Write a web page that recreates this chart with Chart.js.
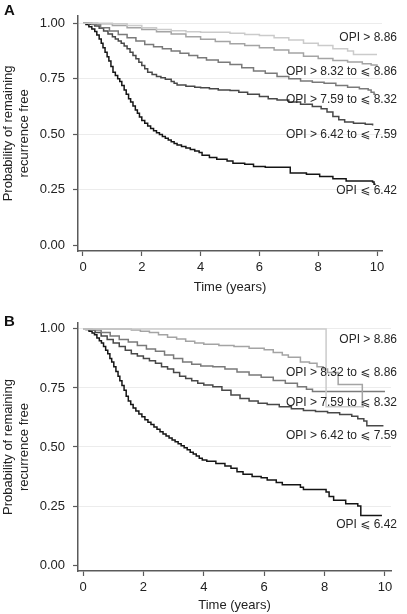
<!DOCTYPE html>
<html>
<head>
<meta charset="utf-8">
<script src="https://cdn.jsdelivr.net/npm/chart.js@4/dist/chart.umd.min.js"></script>
<style>
  html, body { margin: 0; padding: 0; background: #fff; }
  canvas { display: block; }
</style>
</head>
<body>
<canvas id="chartA" width="407" height="300"></canvas>
<canvas id="chartB" width="407" height="314"></canvas>
<script>
// tick labels and curve names
const xTicks = [0, 2, 4, 6, 8, 10];
const yTicks = [0, 0.25, 0.5, 0.75, 1];
const groupNames = ['OPI > 8.86', 'OPI > 8.32 to \u2A7D 8.86', 'OPI > 7.59 to \u2A7D 8.32', 'OPI > 6.42 to \u2A7D 7.59', 'OPI \u2A7D 6.42'];

// Panel A - time (years) and probability for each group
const timeA1 = [0, 1.0, 1.5, 2.0, 2.5, 3.0, 3.5, 4.0, 5.0, 5.5, 6.0, 6.5, 7.0, 7.5, 8.0, 8.5, 9.0, 9.2, 10.0];
const survA1 = [1, 0.998, 0.99, 0.98, 0.972, 0.967, 0.962, 0.96, 0.955, 0.95, 0.945, 0.935, 0.925, 0.91, 0.9, 0.885, 0.875, 0.86, 0.86];
const timeA2 = [0, 0.5, 1.0, 1.5, 2.0, 2.5, 3.0, 3.5, 4.0, 4.5, 5.0, 5.5, 6.0, 6.5, 7.0, 7.5, 8.0, 8.5, 9.0, 9.5, 9.8, 10.0];
const survA2 = [1, 0.998, 0.99, 0.98, 0.972, 0.962, 0.952, 0.94, 0.928, 0.918, 0.908, 0.9, 0.89, 0.88, 0.866, 0.852, 0.842, 0.833, 0.826, 0.818, 0.812, 0.808];
const timeA3 = [0, 0.3, 0.6, 0.9, 1.2, 1.5, 1.8, 2.1, 2.4, 2.7, 3.0, 3.3, 3.6, 3.9, 4.2, 4.6, 5.0, 5.4, 5.8, 6.2, 6.6, 7.0, 7.4, 7.8, 8.2, 8.6, 9.0, 9.4, 9.7, 9.8, 9.9, 9.95];
const survA3 = [1, 0.995, 0.98, 0.965, 0.95, 0.935, 0.92, 0.905, 0.895, 0.885, 0.875, 0.865, 0.855, 0.845, 0.835, 0.825, 0.815, 0.8, 0.785, 0.775, 0.76, 0.75, 0.74, 0.735, 0.73, 0.72, 0.712, 0.705, 0.7, 0.69, 0.68, 0.68];
const timeA4 = [0, 0.2, 0.4, 0.55, 0.7, 0.85, 1.0, 1.1, 1.2, 1.3, 1.4, 1.5, 1.6, 1.7, 1.8, 1.9, 2.0, 2.1, 2.2, 2.35, 2.5, 2.65, 2.8, 3.0, 3.1, 3.2, 3.5, 3.8, 4.0, 4.3, 4.6, 5.0, 5.3, 5.6, 6.0, 6.3, 6.6, 7.0, 7.4, 7.8, 8.1, 8.3, 8.5, 8.7, 8.9, 9.2, 9.6, 9.85];
const survA4 = [1, 0.996, 0.988, 0.978, 0.965, 0.952, 0.94, 0.93, 0.92, 0.91, 0.898, 0.885, 0.87, 0.855, 0.84, 0.825, 0.81, 0.795, 0.78, 0.77, 0.76, 0.755, 0.748, 0.738, 0.73, 0.722, 0.716, 0.712, 0.71, 0.705, 0.7, 0.697, 0.69, 0.68, 0.67, 0.66, 0.655, 0.645, 0.635, 0.625, 0.615, 0.6, 0.58, 0.565, 0.555, 0.55, 0.545, 0.54];
const timeA5 = [0, 0.1, 0.2, 0.3, 0.4, 0.47, 0.55, 0.62, 0.68, 0.75, 0.82, 0.88, 0.95, 1.02, 1.1, 1.18, 1.25, 1.32, 1.4, 1.47, 1.55, 1.62, 1.7, 1.78, 1.85, 1.92, 2.0, 2.1, 2.2, 2.3, 2.4, 2.5, 2.6, 2.7, 2.8, 2.9, 3.0, 3.1, 3.2, 3.35, 3.5, 3.65, 3.8, 3.95, 4.05, 4.3, 4.55, 4.9, 5.1, 5.5, 5.8, 6.2, 7.05, 7.6, 8.05, 8.5, 8.95, 9.85, 9.9, 9.95];
const survA5 = [1, 0.995, 0.985, 0.975, 0.963, 0.948, 0.93, 0.91, 0.89, 0.87, 0.85, 0.83, 0.805, 0.78, 0.765, 0.75, 0.738, 0.72, 0.7, 0.68, 0.66, 0.645, 0.628, 0.61, 0.595, 0.578, 0.562, 0.55, 0.537, 0.526, 0.516, 0.507, 0.499, 0.49, 0.482, 0.474, 0.466, 0.459, 0.452, 0.445, 0.438, 0.432, 0.425, 0.418, 0.405, 0.395, 0.388, 0.38, 0.37, 0.365, 0.355, 0.352, 0.325, 0.32, 0.31, 0.3, 0.29, 0.285, 0.275, 0.275];

// Panel B
const timeB1 = [0, 8.05, 9.25];
const survB1 = [1, 0.67, 0.67];
const timeB2 = [0, 1.5, 1.6, 1.9, 2.2, 2.5, 2.8, 3.1, 3.4, 3.7, 4.0, 4.5, 5.0, 5.5, 6.0, 6.3, 6.6, 6.8, 7.2, 7.5, 7.75, 7.95, 8.1, 8.45, 9.25, 9.3];
const survB2 = [1, 1, 0.995, 0.99, 0.985, 0.975, 0.965, 0.957, 0.948, 0.94, 0.935, 0.93, 0.925, 0.918, 0.912, 0.9, 0.89, 0.88, 0.86, 0.855, 0.84, 0.83, 0.815, 0.765, 0.67, 0.67];
const timeB3 = [0, 0.3, 0.6, 0.9, 1.2, 1.5, 1.8, 2.1, 2.4, 2.7, 3.0, 3.3, 3.6, 3.9, 4.3, 4.7, 5.1, 5.5, 5.9, 6.3, 6.7, 7.1, 7.4, 7.6, 10.0];
const survB3 = [1, 0.995, 0.985, 0.97, 0.955, 0.945, 0.93, 0.915, 0.905, 0.89, 0.875, 0.86, 0.85, 0.843, 0.84, 0.83, 0.818, 0.805, 0.795, 0.782, 0.77, 0.755, 0.745, 0.735, 0.735];
const timeB4 = [0, 0.2, 0.4, 0.6, 0.8, 1.0, 1.2, 1.4, 1.6, 1.8, 2.0, 2.2, 2.4, 2.6, 2.8, 3.0, 3.2, 3.4, 3.6, 3.8, 4.0, 4.3, 4.6, 4.9, 5.2, 5.5, 5.8, 6.1, 6.5, 6.9, 7.3, 7.7, 8.1, 8.5, 8.9, 9.1, 9.3, 9.4, 9.95];
const survB4 = [1, 0.995, 0.985, 0.97, 0.955, 0.94, 0.925, 0.91, 0.895, 0.885, 0.875, 0.865, 0.855, 0.84, 0.83, 0.815, 0.8, 0.79, 0.78, 0.77, 0.762, 0.755, 0.74, 0.72, 0.705, 0.695, 0.685, 0.68, 0.67, 0.662, 0.655, 0.65, 0.645, 0.638, 0.63, 0.62, 0.61, 0.59, 0.59];
const timeB5 = [0, 0.1, 0.2, 0.3, 0.38, 0.46, 0.54, 0.61, 0.68, 0.75, 0.82, 0.89, 0.95, 1.02, 1.09, 1.16, 1.22, 1.29, 1.36, 1.43, 1.5, 1.58, 1.66, 1.75, 1.85, 1.95, 2.05, 2.15, 2.25, 2.35, 2.45, 2.55, 2.65, 2.75, 2.85, 2.95, 3.05, 3.15, 3.25, 3.35, 3.45, 3.55, 3.65, 3.75, 3.85, 3.95, 4.1, 4.4, 4.7, 4.9, 5.1, 5.3, 5.6, 5.9, 6.1, 6.4, 6.6, 7.2, 7.3, 8.05, 8.15, 8.3, 8.7, 9.1, 9.2, 9.9];
const survB5 = [1, 0.997, 0.99, 0.983, 0.975, 0.962, 0.95, 0.94, 0.925, 0.91, 0.895, 0.875, 0.86, 0.84, 0.82, 0.8, 0.78, 0.76, 0.74, 0.715, 0.695, 0.68, 0.665, 0.652, 0.64, 0.628, 0.615, 0.605, 0.595, 0.585, 0.575, 0.565, 0.555, 0.547, 0.538, 0.53, 0.522, 0.514, 0.505, 0.497, 0.488, 0.478, 0.47, 0.462, 0.452, 0.445, 0.44, 0.43, 0.42, 0.41, 0.395, 0.385, 0.375, 0.37, 0.36, 0.35, 0.34, 0.33, 0.32, 0.31, 0.29, 0.275, 0.26, 0.25, 0.21, 0.21];

// where the group names sit (probability units)
const labelPosA = [0.936, 0.782, 0.658, 0.5, 0.244];
const labelPosB = [0.953, 0.814, 0.686, 0.547, 0.169];

const lineColors = ['#cbcbcb', '#a4a4a4', '#7a7a7a', '#484848', '#151515'];
const fontFamily = '"Liberation Sans", Arial, "DejaVu Sans", sans-serif';

Chart.defaults.font.family = fontFamily;
Chart.defaults.color = '#222';

function toPoints(t, s) {
    return t.map((v, i) => ({x: v, y: s[i]}));
}

// draws the group names at the right and the panel letter
const sideText = {
    id: 'sideText',
    afterDatasetsDraw(chart, args, opts) {
        const ctx = chart.ctx;
        const y = chart.scales.y;
        ctx.save();
        ctx.fillStyle = '#262626';
        ctx.font = '12px ' + fontFamily;
        ctx.textAlign = 'right';
        ctx.textBaseline = 'middle';
        opts.names.forEach((name, i) => {
            ctx.fillText(name, chart.width - 10, y.getPixelForValue(opts.pos[i]));
        });
        ctx.font = 'bold 15px ' + fontFamily;
        ctx.textAlign = 'left';
        ctx.fillStyle = '#111';
        ctx.fillText(opts.tag, 4, opts.tagY);
        ctx.restore();
    }
};

function makeChart(id, series, cfg) {
    const datasets = series.map((p, i) => ({
        data: toPoints(p[0], p[1]),
        borderColor: lineColors[i],
        borderWidth: 1.5,
        pointRadius: 0,
        stepped: 'before',
        fill: false
    }));
    return new Chart(document.getElementById(id), {
        type: 'line',
        data: {datasets: datasets},
        plugins: [sideText],
        options: {
            responsive: false,
            animation: false,
            layout: {padding: {left: 0, right: cfg.padRight, top: cfg.padTop, bottom: 0}},
            plugins: {
                legend: {display: false},
                tooltip: {enabled: false},
                sideText: {names: groupNames, pos: cfg.labelPos, tag: cfg.tag, tagY: cfg.tagY}
            },
            scales: {
                x: {
                    type: 'linear',
                    min: cfg.xMin,
                    max: cfg.xMax,
                    afterBuildTicks: s => { s.ticks = xTicks.map(v => ({value: v})); },
                    afterFit: s => { s.height = cfg.xHeight; },
                    border: {display: true, color: '#5a5a5a', width: 1.5},
                    grid: {drawOnChartArea: false, drawTicks: true, tickLength: 5, tickColor: '#5a5a5a', tickWidth: 1.2},
                    ticks: {font: {size: 13}, color: '#222', padding: 4, maxRotation: 0},
                    title: {display: true, text: 'Time (years)', font: {size: 13}, color: '#222', padding: {top: 0, bottom: cfg.titlePad}}
                },
                y: {
                    min: cfg.yMin,
                    max: cfg.yMax,
                    afterBuildTicks: s => { s.ticks = yTicks.map(v => ({value: v})); },
                    afterFit: s => { s.width = 78; },
                    border: {display: true, color: '#5a5a5a', width: 1.5},
                    grid: {
                        color: c => (c.tick && c.tick.value === 0) ? 'rgba(0,0,0,0)' : '#ececec',
                        lineWidth: 1,
                        drawTicks: true,
                        tickLength: 5,
                        tickColor: '#5a5a5a',
                        tickWidth: 1.2
                    },
                    ticks: {font: {size: 13}, color: '#222', padding: 8, callback: v => v.toFixed(2)},
                    title: {display: true, text: ['Probability of remaining', 'recurrence free'], font: {size: 13, lineHeight: 1.2}, color: '#222', padding: {top: 1, bottom: 0}}
                }
            }
        }
    });
}

makeChart('chartA', [[timeA1, survA1], [timeA2, survA2], [timeA3, survA3], [timeA4, survA4], [timeA5, survA5]], {
    padRight: 25, padTop: 3, xHeight: 49, titlePad: 5,
    xMin: -0.17, xMax: 10.17, yMin: -0.026, yMax: 1.034,
    labelPos: labelPosA, tag: 'A', tagY: 11
});
makeChart('chartB', [[timeB1, survB1], [timeB2, survB2], [timeB3, survB3], [timeB4, survB4], [timeB5, survB5]], {
    padRight: 16, padTop: 23, xHeight: 43, titlePad: 1,
    xMin: -0.166, xMax: 10.2, yMin: -0.025, yMax: 1.025,
    labelPos: labelPosB, tag: 'B', tagY: 22
});
</script>
</body>
</html>
